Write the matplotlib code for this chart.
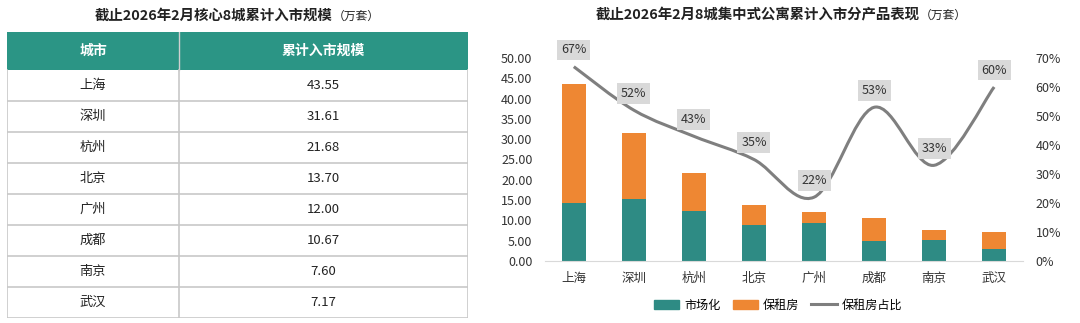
import numpy as np
import matplotlib
matplotlib.use("Agg")
from matplotlib import pyplot as plt
from matplotlib.patches import Rectangle, Patch
from matplotlib.lines import Line2D
from matplotlib.path import Path
from matplotlib.patches import PathPatch
from matplotlib.ticker import FuncFormatter, PercentFormatter

plt.rcParams['font.family'] = ['Noto Sans CJK SC', 'DejaVu Sans']

cities = ["上海", "深圳", "杭州", "北京", "广州", "成都", "南京", "武汉"]
totals = [43.55, 31.61, 21.68, 13.70, 12.00, 10.67, 7.60, 7.17]
total_labels = ["43.55", "31.61", "21.68", "13.70", "12.00", "10.67", "7.60", "7.17"]
market = [14.37, 15.17, 12.36, 8.90, 9.36, 5.01, 5.09, 2.87]
baozu_share = [0.67, 0.52, 0.43, 0.35, 0.22, 0.53, 0.33, 0.60]

TEAL = "#2e8b84"
ORANGE = "#ee8733"
GRAY = "#7f7f7f"
HEADER = "#2b9585"
BORDER = "#c8c8c8"

W, H = 1080, 323
fig = plt.figure(figsize=(W / 100, H / 100), dpi=100)


def px_axes(x0, y0, x1, y1):
    # axes from pixel box (top-left origin)
    return fig.add_axes([x0 / W, (H - y1) / H, (x1 - x0) / W, (y1 - y0) / H])


# ---------- table ----------
tw, th = 461, 286
tab = px_axes(7, 32, 7 + tw, 32 + th)
tab.set_xlim(0, tw)
tab.set_ylim(th, 0)
tab.axis("off")
head_h, row_h, col_x = 38, 31, 172
tab.add_patch(Rectangle((0, 0), tw, head_h, facecolor=HEADER, edgecolor="none"))
tab.text(col_x / 2, head_h / 2, "城市", color="white", ha="center", va="center",
         fontsize=10, fontweight="bold")
tab.text((col_x + tw) / 2, head_h / 2, "累计入市规模", color="white", ha="center",
         va="center", fontsize=10, fontweight="bold")
tab.plot([col_x, col_x], [0, head_h], color="#d0d0d0", lw=1)
for i, (c, v) in enumerate(zip(cities, total_labels)):
    yc = head_h + row_h * (i + 0.5)
    tab.text(col_x / 2, yc, c, ha="center", va="center", fontsize=9.5, color="#222222")
    tab.text((col_x + tw) / 2, yc, v, ha="center", va="center", fontsize=9.5, color="#222222")
    tab.plot([0, tw], [head_h + row_h * (i + 1)] * 2, color=BORDER, lw=1.2)
tab.plot([0, 0], [head_h, th], color=BORDER, lw=1.2)
tab.plot([tw, tw], [head_h, th], color=BORDER, lw=1.2)
tab.plot([col_x, col_x], [head_h, th], color=BORDER, lw=1.2)

fig.text(333 / W, 1 - 16 / H, "截止2026年2月核心8城累计入市规模", ha="right", va="center",
         fontsize=10.4, fontweight="bold", color="#222222")
fig.text(333 / W, 1 - 16 / H, "（万套）", ha="left", va="center", fontsize=8.5,
         color="#222222")

# ---------- chart ----------
ax = px_axes(545, 58, 1023, 261)
x = np.arange(len(cities))
baozu = [t - m for t, m in zip(totals, market)]
ax.bar(x, market, width=0.39, color=TEAL, zorder=2)
ax.bar(x, baozu, width=0.39, bottom=market, color=ORANGE, zorder=2)
ax.set_xlim(-0.48, len(cities) - 0.52)
ax.set_ylim(0, 50)
ax.set_yticks(np.arange(0, 50.1, 5))
ax.yaxis.set_major_formatter(FuncFormatter(lambda v, p: f"{v:.2f}"))
ax.set_xticks(x)
ax.set_xticklabels(cities)
ax.tick_params(length=0, labelsize=9, colors="#333333")
ax.tick_params(axis="y", pad=9)
ax.tick_params(axis="x", pad=8)
for s in ["top", "right", "left"]:
    ax.spines[s].set_visible(False)
ax.spines["bottom"].set_color("#d9d9d9")

ax2 = ax.twinx()
ax2.set_ylim(0, 0.7)
ax2.set_yticks(np.arange(0, 0.71, 0.1))
ax2.yaxis.set_major_formatter(PercentFormatter(1.0, decimals=0))
ax2.tick_params(length=0, labelsize=9, colors="#333333", pad=9)
for s in ax2.spines.values():
    s.set_visible(False)

# smoothed line (bezier through data points, like Excel smooth)
pts = np.column_stack([x, baozu_share]).astype(float)
verts = [tuple(pts[0])]
codes = [Path.MOVETO]
n = len(pts)
for i in range(n - 1):
    p0 = pts[i - 1] if i > 0 else pts[i]
    p1, p2 = pts[i], pts[i + 1]
    p3 = pts[i + 2] if i + 2 < n else pts[i + 1]
    c1 = p1 + (p2 - p0) / 6
    c2 = p2 - (p3 - p1) / 6
    verts += [tuple(c1), tuple(c2), tuple(p2)]
    codes += [Path.CURVE4] * 3
ax2.add_patch(PathPatch(Path(verts, codes), facecolor="none", edgecolor=GRAY,
                        lw=2.2, zorder=3))
for xi, v in zip(x, baozu_share):
    ax2.annotate(f"{v:.0%}", (xi, v), xytext=(0, 7.5), textcoords="offset points",
                 ha="center", va="bottom", fontsize=9, color="#333333",
                 bbox=dict(boxstyle="square,pad=0.3", fc="#d9d9d9", ec="none"))

fig.text(920 / W, 1 - 15 / H, "截止2026年2月8城集中式公寓累计入市分产品表现", ha="right",
         va="center", fontsize=10.4, fontweight="bold", color="#222222")
fig.text(920 / W, 1 - 15 / H, "（万套）", ha="left", va="center", fontsize=8.5,
         color="#222222")

handles = [Patch(color=TEAL, label="市场化"), Patch(color=ORANGE, label="保租房"),
           Line2D([], [], color=GRAY, lw=2.2, label="保租房占比")]
fig.legend(handles=handles, loc="center", bbox_to_anchor=(778 / W, 1 - 305 / H),
           ncol=3, frameon=False, fontsize=8.7, handlelength=2.1, handleheight=0.7,
           columnspacing=1.0, handletextpad=0.4)

fig.savefig("out.png", dpi=100)
